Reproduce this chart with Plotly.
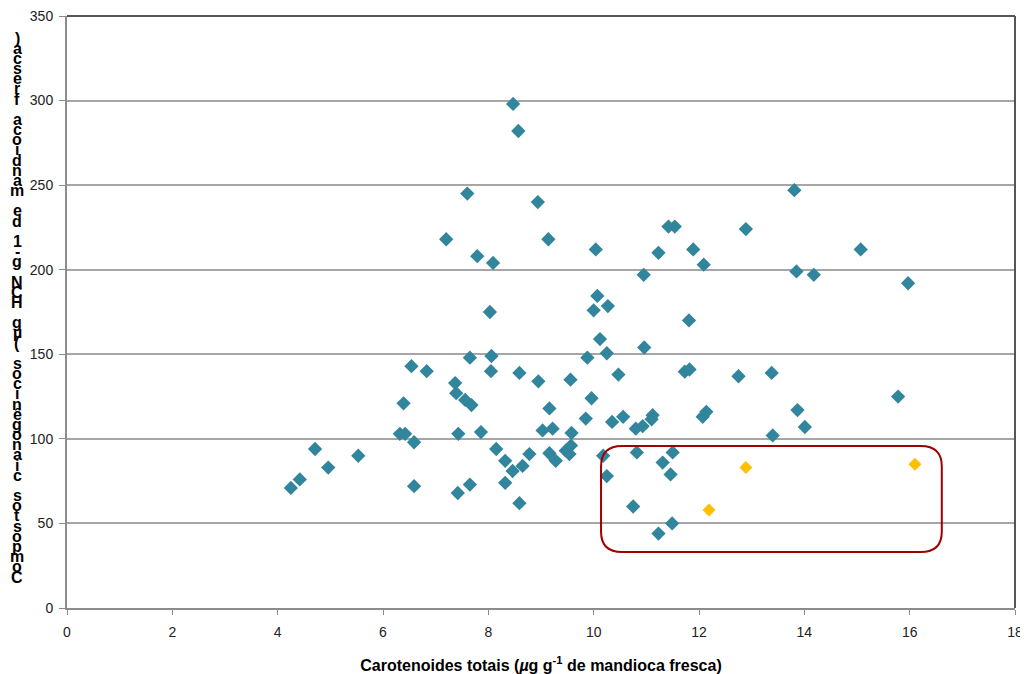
import plotly.graph_objects as go

# ---- data ----
blue_x = [4.25, 4.42, 4.71, 4.96, 5.53, 6.54, 6.83, 6.39, 6.32, 6.42, 6.59, 6.59,
          7.20, 7.37, 7.39, 7.43, 7.42, 7.56, 7.68, 7.60, 7.65, 7.65, 7.79, 7.86,
          8.09, 8.03, 8.06, 8.05, 8.15, 8.32, 8.32, 8.46, 8.47, 8.57, 8.59, 8.59,
          8.65, 8.78, 8.94, 8.95, 9.03, 9.14, 9.16, 9.22, 9.16, 9.28, 9.47, 9.54,
          9.56, 9.58, 9.57, 9.85, 9.88, 9.96, 10.00, 10.04, 10.07, 10.27, 10.12, 10.25,
          10.47, 10.35, 10.56, 10.80, 10.93, 11.12, 11.10, 10.95, 10.96, 11.23, 11.42, 11.54,
          11.89, 12.09, 11.81, 11.73, 11.82, 12.07, 12.14, 12.75, 12.89, 13.38, 13.40, 13.81,
          13.85, 14.18, 13.87, 14.01, 15.07, 15.97, 15.78, 10.18, 10.25, 10.75, 10.82, 11.31,
          11.46, 11.50, 11.49, 11.23]
blue_y = [71, 76, 94, 83, 90, 143, 140, 121, 103, 103, 98, 72,
          218, 133, 127, 103, 68, 123, 120, 245, 148, 73, 208, 104,
          204, 175, 149, 140, 94, 87, 74, 81, 298, 282, 139, 62,
          84, 91, 240, 134, 105, 218, 118, 106, 91.5, 87, 93, 91,
          135, 103.5, 96, 112, 148, 124, 176, 212, 184.5, 178.5, 159, 150.6,
          138, 110, 113, 106, 107.5, 114, 111.6, 197, 154, 210, 225.5, 225.5,
          212, 203, 170, 139.7, 141, 113, 116, 137, 224, 139, 102, 247,
          199, 197, 117, 107, 212, 192, 125, 90, 78, 60, 92, 86,
          79, 92, 50, 44]
yellow_x = [12.19, 12.89, 16.10]
yellow_y = [58, 83, 85]

x_ticks = [0, 2, 4, 6, 8, 10, 12, 14, 16, 18]
y_ticks = [0, 50, 100, 150, 200, 250, 300, 350]

box_x = [10.14, 16.61]
box_y = [33.1, 95.8]

y_title = "Compostos cianogênicos (µg HCN g-1 de mandioca fresca)"
x_title = "Carotenoides totais (<i>µ</i>g g<sup>-1</sup> de mandioca fresca)"

FONT = "Liberation Sans, Arial, sans-serif"

fig = go.Figure()
fig.add_trace(go.Scatter(x=blue_x, y=blue_y, mode="markers",
                         marker=dict(symbol="diamond", size=11, color="#31859C",
                                     line=dict(width=0)),
                         showlegend=False, hoverinfo="x+y"))
fig.add_trace(go.Scatter(x=yellow_x, y=yellow_y, mode="markers",
                         marker=dict(symbol="diamond", size=10, color="#FFC000",
                                     line=dict(width=0)),
                         showlegend=False, hoverinfo="x+y"))

# rounded rectangle highlight
x0, x1 = box_x
y0, y1 = box_y
rx, ry = 0.4, 12
path = (f"M {x0+rx},{y1} L {x1-rx},{y1} Q {x1},{y1} {x1},{y1-ry} "
        f"L {x1},{y0+ry} Q {x1},{y0} {x1-rx},{y0} L {x0+rx},{y0} "
        f"Q {x0},{y0} {x0},{y0+ry} L {x0},{y1-ry} Q {x0},{y1} {x0+rx},{y1} Z")
fig.add_shape(type="path", path=path, xref="x", yref="y",
              line=dict(color="#A00000", width=2))

# plot border (top/right darker)
fig.add_shape(type="line", xref="paper", yref="paper", x0=0, x1=1, y0=1, y1=1,
              line=dict(color="#555555", width=2), layer="above")
fig.add_shape(type="line", xref="paper", yref="paper", x0=1, x1=1, y0=0, y1=1,
              line=dict(color="#555555", width=2), layer="above")

# stacked y-axis title characters (as rendered in the reference)
chars = list(reversed(y_title))
top_px, bot_px = 38, 577
plot_top, plot_bot = 16, 608
n = len(chars)
for i, ch in enumerate(chars):
    if ch == " ":
        continue
    py = top_px + (bot_px - top_px) * i / (n - 1)
    fig.add_annotation(text="<b>" + ch + "</b>", xref="paper", yref="paper",
                       x=(17 - 67) / 948, y=(plot_bot - py) / (plot_bot - plot_top),
                       showarrow=False, xanchor="center", yanchor="middle",
                       font=dict(family=FONT, size=16, color="#000000"))

fig.update_layout(
    width=1020, height=666,
    margin=dict(l=59, r=13, t=8, b=66, autoexpand=False),
    paper_bgcolor="white", plot_bgcolor="white",
    font=dict(family=FONT, size=14, color="#222222"),
    xaxis=dict(range=[0, 18], tickvals=x_ticks, ticktext=[str(v) for v in x_ticks],
               showgrid=False, zeroline=False, showline=True, linecolor="#8C8C8C",
               linewidth=2, ticks="outside", ticklen=5, tickcolor="#8C8C8C",
               tickwidth=1, automargin=False, ticklabeloverflow="allow",
               ticklabelstandoff=5,
               title=dict(text="<b>" + x_title + "</b>", font=dict(size=16, color="#000000"),
                          standoff=22)),
    yaxis=dict(range=[0, 350], tickvals=y_ticks, ticktext=[str(v) for v in y_ticks],
               showgrid=True, gridcolor="#A6A6A6", gridwidth=2, zeroline=False,
               showline=True, linecolor="#8C8C8C", linewidth=2, automargin=False,
               ticklabeloverflow="allow", ticklabelstandoff=3,
               ticks="outside", ticklen=6, tickcolor="#8C8C8C", tickwidth=1),
)

fig.write_html("out.html")
